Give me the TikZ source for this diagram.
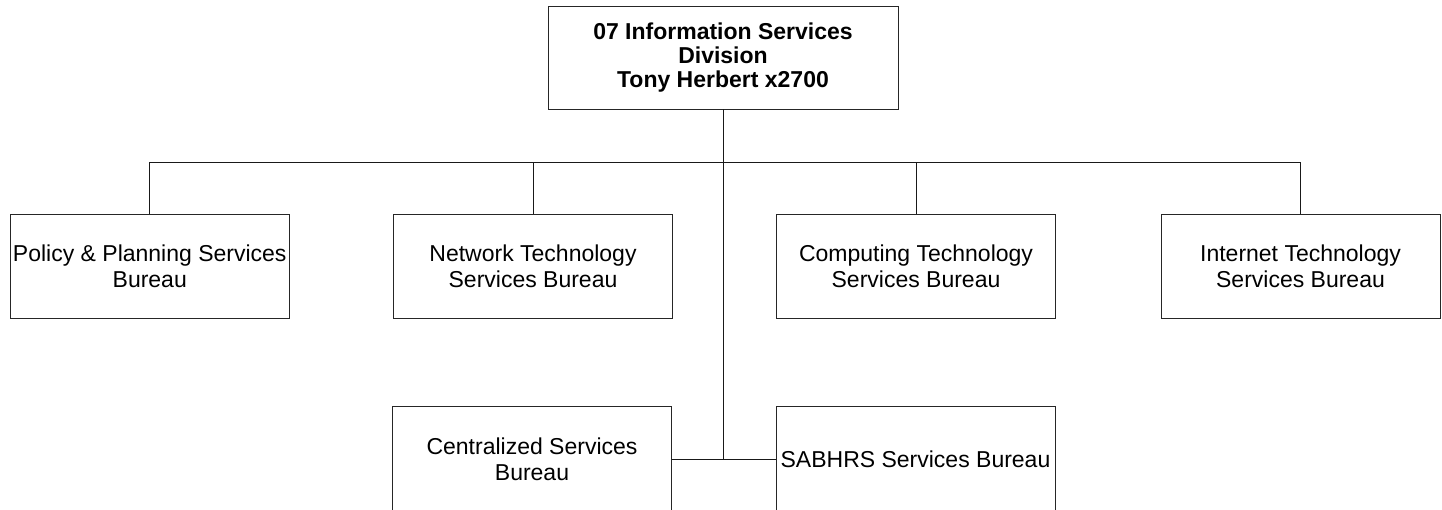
\documentclass[tikz,border=0pt]{standalone}
\usepackage{fontspec}
\setmainfont{Liberation Sans}
\begin{document}
\begin{tikzpicture}[x=1pt,y=-1pt,
  line width=0.9pt,
  unit/.style={draw=black!85, rectangle, inner sep=0pt, align=center,
    minimum width=279pt, minimum height=104.5pt,
    font=\fontsize{23}{26}\selectfont},
  head/.style={unit, minimum width=350pt, minimum height=103pt,
    font=\fontsize{23}{24}\selectfont\bfseries},
  link/.style={draw=black!90}]
  \useasboundingbox (0,0) rectangle (1442,509);

  % division head
  \node[head] (div) at (723,57.5) {07 Information Services\\Division\\Tony Herbert x2700};

  % first row of bureaus
  \node[unit] (pol) at (149.75,266.25) {Policy \& Planning Services\\Bureau};
  \node[unit] (net) at (533,266.25) {Network Technology\\Services Bureau};
  \node[unit] (cmp) at (916,266.25) {Computing Technology\\Services Bureau};
  \node[unit] (int) at (1300.5,266.25) {Internet Technology\\Services Bureau};

  % second row of bureaus
  \node[unit] (cen) at (532,459) {Centralized Services\\Bureau};
  \node[unit] (sab) at (915.5,459) {SABHRS Services Bureau};

  % branch points
  \coordinate (bus) at (723,162.5);
  \coordinate (jn) at (723,459);

  % connectors
  \draw[link] (div.south) -- (jn);
  \draw[link] (pol.north) |- (int.north |- bus) -- (int.north);
  \draw[link] (net.north) -- (net.north |- bus);
  \draw[link] (cmp.north) -- (cmp.north |- bus);
  \draw[link] (cen.east) -- (sab.west);
\end{tikzpicture}
\end{document}
